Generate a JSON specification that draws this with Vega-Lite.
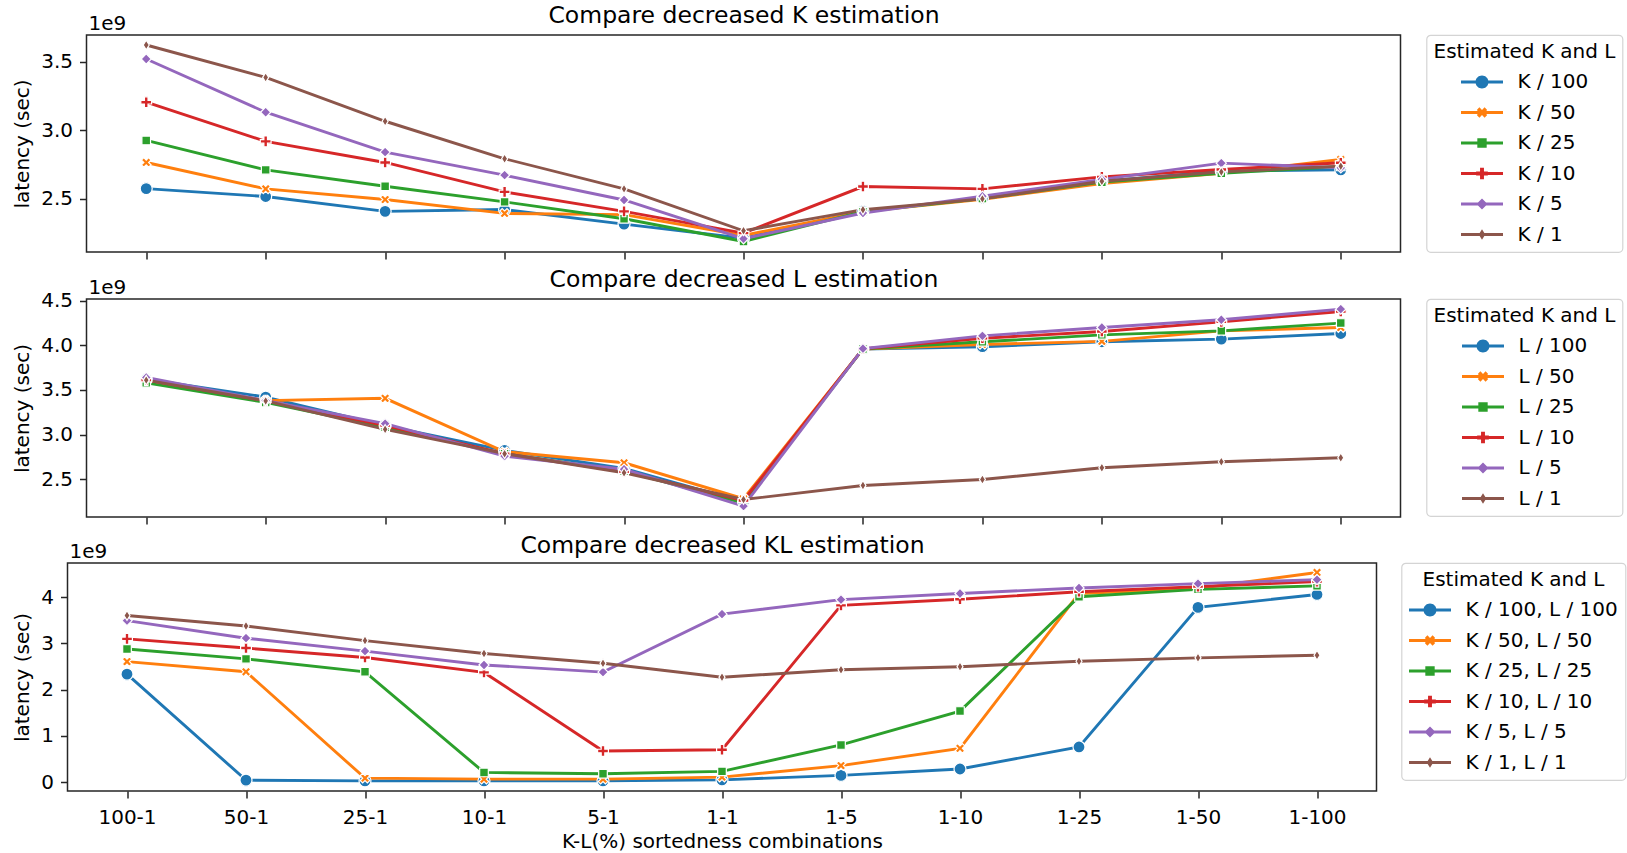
{
  "$schema": "https://vega.github.io/schema/vega-lite/v6.json",
  "background": "white",
  "padding": {"left": 10.5, "top": 2, "right": 5, "bottom": 5},
  "config": {
    "font": "DejaVu Sans",
    "view": {"stroke": "#262626", "strokeWidth": 1.5},
    "axis": {"domain": false, "grid": false, "tickSize": 7, "tickWidth": 1.5, "tickColor": "#262626", "labelFontSize": 20, "labelColor": "black", "labelFont": "DejaVu Sans", "titleFontSize": 20, "titleFontWeight": "normal", "titleColor": "black", "titleFont": "DejaVu Sans", "labelPadding": 7},
    "axisY": {"titlePadding": 8},
    "axisX": {"labelAngle": 0, "labelPadding": 9, "titlePadding": 4},
    "legend": {"labelFontSize": 20, "labelFont": "DejaVu Sans", "labelColor": "black", "labelLimit": 400, "titleFontSize": 20, "titleFont": "DejaVu Sans", "titleFontWeight": "normal", "titleColor": "black", "titleLimit": 400, "symbolSize": 169, "symbolStrokeWidth": 0, "rowPadding": 10.5, "padding": 7, "titlePadding": 10, "strokeColor": "#d4d4d4", "strokeWidth": 1.2, "cornerRadius": 4, "fillColor": "white", "titleAnchor": "middle"}
  },
  "datasets": {
    "K": [
      {"combo":"100-1","series":"K / 100","latency":2.573e9},{"combo":"50-1","series":"K / 100","latency":2.515e9},{"combo":"25-1","series":"K / 100","latency":2.407e9},{"combo":"10-1","series":"K / 100","latency":2.42e9},{"combo":"5-1","series":"K / 100","latency":2.314e9},{"combo":"1-1","series":"K / 100","latency":2.21e9},{"combo":"1-5","series":"K / 100","latency":2.41e9},{"combo":"1-10","series":"K / 100","latency":2.5e9},{"combo":"1-25","series":"K / 100","latency":2.627e9},{"combo":"1-50","series":"K / 100","latency":2.7e9},{"combo":"1-100","series":"K / 100","latency":2.71e9},
      {"combo":"100-1","series":"K / 50","latency":2.764e9},{"combo":"50-1","series":"K / 50","latency":2.571e9},{"combo":"25-1","series":"K / 50","latency":2.493e9},{"combo":"10-1","series":"K / 50","latency":2.392e9},{"combo":"5-1","series":"K / 50","latency":2.383e9},{"combo":"1-1","series":"K / 50","latency":2.231e9},{"combo":"1-5","series":"K / 50","latency":2.405e9},{"combo":"1-10","series":"K / 50","latency":2.495e9},{"combo":"1-25","series":"K / 50","latency":2.61e9},{"combo":"1-50","series":"K / 50","latency":2.685e9},{"combo":"1-100","series":"K / 50","latency":2.786e9},
      {"combo":"100-1","series":"K / 25","latency":2.925e9},{"combo":"50-1","series":"K / 25","latency":2.71e9},{"combo":"25-1","series":"K / 25","latency":2.59e9},{"combo":"10-1","series":"K / 25","latency":2.476e9},{"combo":"5-1","series":"K / 25","latency":2.353e9},{"combo":"1-1","series":"K / 25","latency":2.187e9},{"combo":"1-5","series":"K / 25","latency":2.405e9},{"combo":"1-10","series":"K / 25","latency":2.5e9},{"combo":"1-25","series":"K / 25","latency":2.62e9},{"combo":"1-50","series":"K / 25","latency":2.685e9},{"combo":"1-100","series":"K / 25","latency":2.735e9},
      {"combo":"100-1","series":"K / 10","latency":3.204e9},{"combo":"50-1","series":"K / 10","latency":2.918e9},{"combo":"25-1","series":"K / 10","latency":2.764e9},{"combo":"10-1","series":"K / 10","latency":2.549e9},{"combo":"5-1","series":"K / 10","latency":2.407e9},{"combo":"1-1","series":"K / 10","latency":2.248e9},{"combo":"1-5","series":"K / 10","latency":2.588e9},{"combo":"1-10","series":"K / 10","latency":2.571e9},{"combo":"1-25","series":"K / 10","latency":2.659e9},{"combo":"1-50","series":"K / 10","latency":2.713e9},{"combo":"1-100","series":"K / 10","latency":2.762e9},
      {"combo":"100-1","series":"K / 5","latency":3.52e9},{"combo":"50-1","series":"K / 5","latency":3.131e9},{"combo":"25-1","series":"K / 5","latency":2.84e9},{"combo":"10-1","series":"K / 5","latency":2.671e9},{"combo":"5-1","series":"K / 5","latency":2.49e9},{"combo":"1-1","series":"K / 5","latency":2.207e9},{"combo":"1-5","series":"K / 5","latency":2.395e9},{"combo":"1-10","series":"K / 5","latency":2.517e9},{"combo":"1-25","series":"K / 5","latency":2.64e9},{"combo":"1-50","series":"K / 5","latency":2.759e9},{"combo":"1-100","series":"K / 5","latency":2.725e9},
      {"combo":"100-1","series":"K / 1","latency":3.622e9},{"combo":"50-1","series":"K / 1","latency":3.385e9},{"combo":"25-1","series":"K / 1","latency":3.065e9},{"combo":"10-1","series":"K / 1","latency":2.791e9},{"combo":"5-1","series":"K / 1","latency":2.571e9},{"combo":"1-1","series":"K / 1","latency":2.265e9},{"combo":"1-5","series":"K / 1","latency":2.419e9},{"combo":"1-10","series":"K / 1","latency":2.498e9},{"combo":"1-25","series":"K / 1","latency":2.627e9},{"combo":"1-50","series":"K / 1","latency":2.695e9},{"combo":"1-100","series":"K / 1","latency":2.737e9}
    ],
    "L": [
      {"combo":"100-1","series":"L / 100","latency":3.62e9},{"combo":"50-1","series":"L / 100","latency":3.42e9},{"combo":"25-1","series":"L / 100","latency":3.1e9},{"combo":"10-1","series":"L / 100","latency":2.822e9},{"combo":"5-1","series":"L / 100","latency":2.62e9},{"combo":"1-1","series":"L / 100","latency":2.245e9},{"combo":"1-5","series":"L / 100","latency":3.96e9},{"combo":"1-10","series":"L / 100","latency":3.985e9},{"combo":"1-25","series":"L / 100","latency":4.04e9},{"combo":"1-50","series":"L / 100","latency":4.07e9},{"combo":"1-100","series":"L / 100","latency":4.133e9},
      {"combo":"100-1","series":"L / 50","latency":3.61e9},{"combo":"50-1","series":"L / 50","latency":3.38e9},{"combo":"25-1","series":"L / 50","latency":3.406e9},{"combo":"10-1","series":"L / 50","latency":2.807e9},{"combo":"5-1","series":"L / 50","latency":2.683e9},{"combo":"1-1","series":"L / 50","latency":2.28e9},{"combo":"1-5","series":"L / 50","latency":3.96e9},{"combo":"1-10","series":"L / 50","latency":4.01e9},{"combo":"1-25","series":"L / 50","latency":4.045e9},{"combo":"1-50","series":"L / 50","latency":4.163e9},{"combo":"1-100","series":"L / 50","latency":4.2e9},
      {"combo":"100-1","series":"L / 25","latency":3.58e9},{"combo":"50-1","series":"L / 25","latency":3.36e9},{"combo":"25-1","series":"L / 25","latency":3.08e9},{"combo":"10-1","series":"L / 25","latency":2.785e9},{"combo":"5-1","series":"L / 25","latency":2.59e9},{"combo":"1-1","series":"L / 25","latency":2.23e9},{"combo":"1-5","series":"L / 25","latency":3.96e9},{"combo":"1-10","series":"L / 25","latency":4.04e9},{"combo":"1-25","series":"L / 25","latency":4.118e9},{"combo":"1-50","series":"L / 25","latency":4.163e9},{"combo":"1-100","series":"L / 25","latency":4.25e9},
      {"combo":"100-1","series":"L / 10","latency":3.61e9},{"combo":"50-1","series":"L / 10","latency":3.38e9},{"combo":"25-1","series":"L / 10","latency":3.1e9},{"combo":"10-1","series":"L / 10","latency":2.785e9},{"combo":"5-1","series":"L / 10","latency":2.583e9},{"combo":"1-1","series":"L / 10","latency":2.26e9},{"combo":"1-5","series":"L / 10","latency":3.96e9},{"combo":"1-10","series":"L / 10","latency":4.08e9},{"combo":"1-25","series":"L / 10","latency":4.155e9},{"combo":"1-50","series":"L / 10","latency":4.264e9},{"combo":"1-100","series":"L / 10","latency":4.38e9},
      {"combo":"100-1","series":"L / 5","latency":3.64e9},{"combo":"50-1","series":"L / 5","latency":3.38e9},{"combo":"25-1","series":"L / 5","latency":3.122e9},{"combo":"10-1","series":"L / 5","latency":2.758e9},{"combo":"5-1","series":"L / 5","latency":2.61e9},{"combo":"1-1","series":"L / 5","latency":2.197e9},{"combo":"1-5","series":"L / 5","latency":3.964e9},{"combo":"1-10","series":"L / 5","latency":4.107e9},{"combo":"1-25","series":"L / 5","latency":4.2e9},{"combo":"1-50","series":"L / 5","latency":4.287e9},{"combo":"1-100","series":"L / 5","latency":4.406e9},
      {"combo":"100-1","series":"L / 1","latency":3.61e9},{"combo":"50-1","series":"L / 1","latency":3.377e9},{"combo":"25-1","series":"L / 1","latency":3.058e9},{"combo":"10-1","series":"L / 1","latency":2.785e9},{"combo":"5-1","series":"L / 1","latency":2.571e9},{"combo":"1-1","series":"L / 1","latency":2.271e9},{"combo":"1-5","series":"L / 1","latency":2.429e9},{"combo":"1-10","series":"L / 1","latency":2.496e9},{"combo":"1-25","series":"L / 1","latency":2.627e9},{"combo":"1-50","series":"L / 1","latency":2.695e9},{"combo":"1-100","series":"L / 1","latency":2.74e9}
    ],
    "KL": [
      {"combo":"100-1","series":"K / 100, L / 100","latency":2.337e9},{"combo":"50-1","series":"K / 100, L / 100","latency":0.044e9},{"combo":"25-1","series":"K / 100, L / 100","latency":0.03e9},{"combo":"10-1","series":"K / 100, L / 100","latency":0.03e9},{"combo":"5-1","series":"K / 100, L / 100","latency":0.03e9},{"combo":"1-1","series":"K / 100, L / 100","latency":0.05e9},{"combo":"1-5","series":"K / 100, L / 100","latency":0.147e9},{"combo":"1-10","series":"K / 100, L / 100","latency":0.286e9},{"combo":"1-25","series":"K / 100, L / 100","latency":0.762e9},{"combo":"1-50","series":"K / 100, L / 100","latency":3.78e9},{"combo":"1-100","series":"K / 100, L / 100","latency":4.06e9},
      {"combo":"100-1","series":"K / 50, L / 50","latency":2.608e9},{"combo":"50-1","series":"K / 50, L / 50","latency":2.388e9},{"combo":"25-1","series":"K / 50, L / 50","latency":0.088e9},{"combo":"10-1","series":"K / 50, L / 50","latency":0.066e9},{"combo":"5-1","series":"K / 50, L / 50","latency":0.066e9},{"combo":"1-1","series":"K / 50, L / 50","latency":0.11e9},{"combo":"1-5","series":"K / 50, L / 50","latency":0.359e9},{"combo":"1-10","series":"K / 50, L / 50","latency":0.733e9},{"combo":"1-25","series":"K / 50, L / 50","latency":4.08e9},{"combo":"1-50","series":"K / 50, L / 50","latency":4.19e9},{"combo":"1-100","series":"K / 50, L / 50","latency":4.535e9},
      {"combo":"100-1","series":"K / 25, L / 25","latency":2.879e9},{"combo":"50-1","series":"K / 25, L / 25","latency":2.667e9},{"combo":"25-1","series":"K / 25, L / 25","latency":2.388e9},{"combo":"10-1","series":"K / 25, L / 25","latency":0.212e9},{"combo":"5-1","series":"K / 25, L / 25","latency":0.183e9},{"combo":"1-1","series":"K / 25, L / 25","latency":0.234e9},{"combo":"1-5","series":"K / 25, L / 25","latency":0.806e9},{"combo":"1-10","series":"K / 25, L / 25","latency":1.538e9},{"combo":"1-25","series":"K / 25, L / 25","latency":4.01e9},{"combo":"1-50","series":"K / 25, L / 25","latency":4.17e9},{"combo":"1-100","series":"K / 25, L / 25","latency":4.245e9},
      {"combo":"100-1","series":"K / 10, L / 10","latency":3.099e9},{"combo":"50-1","series":"K / 10, L / 10","latency":2.901e9},{"combo":"25-1","series":"K / 10, L / 10","latency":2.696e9},{"combo":"10-1","series":"K / 10, L / 10","latency":2.374e9},{"combo":"5-1","series":"K / 10, L / 10","latency":0.674e9},{"combo":"1-1","series":"K / 10, L / 10","latency":0.703e9},{"combo":"1-5","series":"K / 10, L / 10","latency":3.824e9},{"combo":"1-10","series":"K / 10, L / 10","latency":3.956e9},{"combo":"1-25","series":"K / 10, L / 10","latency":4.117e9},{"combo":"1-50","series":"K / 10, L / 10","latency":4.23e9},{"combo":"1-100","series":"K / 10, L / 10","latency":4.337e9},
      {"combo":"100-1","series":"K / 5, L / 5","latency":3.495e9},{"combo":"50-1","series":"K / 5, L / 5","latency":3.114e9},{"combo":"25-1","series":"K / 5, L / 5","latency":2.835e9},{"combo":"10-1","series":"K / 5, L / 5","latency":2.535e9},{"combo":"5-1","series":"K / 5, L / 5","latency":2.381e9},{"combo":"1-1","series":"K / 5, L / 5","latency":3.634e9},{"combo":"1-5","series":"K / 5, L / 5","latency":3.949e9},{"combo":"1-10","series":"K / 5, L / 5","latency":4.081e9},{"combo":"1-25","series":"K / 5, L / 5","latency":4.2e9},{"combo":"1-50","series":"K / 5, L / 5","latency":4.295e9},{"combo":"1-100","series":"K / 5, L / 5","latency":4.38e9},
      {"combo":"100-1","series":"K / 1, L / 1","latency":3.604e9},{"combo":"50-1","series":"K / 1, L / 1","latency":3.377e9},{"combo":"25-1","series":"K / 1, L / 1","latency":3.062e9},{"combo":"10-1","series":"K / 1, L / 1","latency":2.784e9},{"combo":"5-1","series":"K / 1, L / 1","latency":2.571e9},{"combo":"1-1","series":"K / 1, L / 1","latency":2.271e9},{"combo":"1-5","series":"K / 1, L / 1","latency":2.432e9},{"combo":"1-10","series":"K / 1, L / 1","latency":2.498e9},{"combo":"1-25","series":"K / 1, L / 1","latency":2.615e9},{"combo":"1-50","series":"K / 1, L / 1","latency":2.689e9},{"combo":"1-100","series":"K / 1, L / 1","latency":2.745e9}
    ]
  },
  "spacing": 5,
  "resolve": {"scale": {"color": "independent", "shape": "independent", "stroke": "independent"}},
  "vconcat": [
    {
      "spacing": 0,
      "resolve": {"scale": {"color": "independent", "shape": "independent", "stroke": "independent"}},
      "hconcat": [
        {"width": 1, "height": 1, "data": {"values": []}, "mark": "point", "view": {"stroke": null}},
        {
          "width": 1314, "height": 217,
          "data": {"name": "K"},
          "resolve": {"axis": {"x": "independent", "y": "independent"}},
          "layer": [
            {
              "mark": {"type": "line", "strokeWidth": 2.9},
              "encoding": {
                "x": {"field": "combo", "type": "ordinal", "scale": {"type": "point", "padding": 0.5, "domain": ["100-1","50-1","25-1","10-1","5-1","1-1","1-5","1-10","1-25","1-50","1-100"]}, "axis": {"orient": "bottom", "labels": false, "title": null}},
                "y": {"field": "latency", "type": "quantitative", "scale": {"domain": [2.11e9, 3.695e9], "nice": false, "zero": false}, "axis": {"orient": "left", "values": [2.5e9, 3e9, 3.5e9], "labelExpr": "format(datum.value/1e9, '.1f')", "title": "latency (sec)"}},
                "stroke": {"field": "series", "type": "nominal", "scale": {"domain": ["K / 1","K / 5","K / 10","K / 25","K / 50","K / 100"], "range": ["#8c564b","#9467bd","#d62728","#2ca02c","#ff7f0e","#1f77b4"]}, "legend": null}
              }
            },
            {
              "mark": {"type": "point", "filled": true, "opacity": 1, "size": 144, "stroke": "white", "strokeWidth": 1.2},
              "encoding": {
                "x": {"field": "combo", "type": "ordinal", "axis": {"orient": "top", "labels": false, "ticks": false, "domain": false, "title": "Compare decreased K estimation", "titleFontSize": 23.5, "titleY": -13, "titleBaseline": "alphabetic"}},
                "y": {"field": "latency", "type": "quantitative", "axis": {"orient": "left", "labels": false, "ticks": false, "domain": false, "title": "1e9", "titleAngle": 0, "titleX": 1.5, "titleY": -6, "titleAlign": "left", "titleBaseline": "alphabetic"}},
                "color": {"field": "series", "type": "nominal", "scale": {"domain": ["K / 100","K / 50","K / 25","K / 10","K / 5","K / 1"], "range": ["#1f77b4","#ff7f0e","#2ca02c","#d62728","#9467bd","#8c564b"]},
                  "legend": {"title": "Estimated K and L", "orient": "right", "offset": 25.5, "symbolOffset": 11.5, "labelOffset": 25.5,
                    "symbolType": {"expr": "['M-3.23,-0.23H3.23V0.23H-3.23ZM-1,0A1,1 0 1,1 1,0A1,1 0 1,1 -1,0Z','M-3.23,-0.23H3.23V0.23H-3.23ZM-0.8,-0.4L-0.4,-0.8L0,-0.4L0.4,-0.8L0.8,-0.4L0.4,0L0.8,0.4L0.4,0.8L0,0.4L-0.4,0.8L-0.8,0.4L-0.4,0Z','M-3.23,-0.23H3.23V0.23H-3.23ZM-0.72,-0.72H0.72V0.72H-0.72Z','M-3.23,-0.23H3.23V0.23H-3.23ZM-0.9,-0.3H-0.3V-0.9H0.3V-0.3H0.9V0.3H0.3V0.9H-0.3V0.3H-0.9Z','M-3.23,-0.23H3.23V0.23H-3.23ZM-0.85,0L0,-0.85L0.85,0L0,0.85Z','M-3.23,-0.23H3.23V0.23H-3.23ZM-0.5,0L0,-0.8L0.5,0L0,0.8Z'][indexof(['K / 100','K / 50','K / 25','K / 10','K / 5','K / 1'], datum.value)]"},
                    "encode": {"symbols": {"strokeWidth": {"value": 0}, "size": {"value": 169}}}}},
                "shape": {"field": "series", "type": "nominal", "scale": {"domain": ["K / 1","K / 5","K / 10","K / 25","K / 50","K / 100"], "range": ["M-0.5,0L0,-0.8L0.5,0L0,0.8Z","M-0.85,0L0,-0.85L0.85,0L0,0.85Z","M-0.9,-0.3H-0.3V-0.9H0.3V-0.3H0.9V0.3H0.3V0.9H-0.3V0.3H-0.9Z","M-0.72,-0.72H0.72V0.72H-0.72Z","M-0.8,-0.4L-0.4,-0.8L0,-0.4L0.4,-0.8L0.8,-0.4L0.4,0L0.8,0.4L0.4,0.8L0,0.4L-0.4,0.8L-0.8,0.4L-0.4,0Z","M-1,0A1,1 0 1,1 1,0A1,1 0 1,1 -1,0Z"]}, "legend": null}
              }
            }
          ]
        }
      ]
    },
    {
      "spacing": 0,
      "resolve": {"scale": {"color": "independent", "shape": "independent", "stroke": "independent"}},
      "hconcat": [
        {"width": 1, "height": 1, "data": {"values": []}, "mark": "point", "view": {"stroke": null}},
        {
          "width": 1314, "height": 218,
          "data": {"name": "L"},
          "resolve": {"axis": {"x": "independent", "y": "independent"}},
          "layer": [
            {
              "mark": {"type": "line", "strokeWidth": 2.9},
              "encoding": {
                "x": {"field": "combo", "type": "ordinal", "scale": {"type": "point", "padding": 0.5, "domain": ["100-1","50-1","25-1","10-1","5-1","1-1","1-5","1-10","1-25","1-50","1-100"]}, "axis": {"orient": "bottom", "labels": false, "title": null, "minExtent": 9}},
                "y": {"field": "latency", "type": "quantitative", "scale": {"domain": [2.075e9, 4.52e9], "nice": false, "zero": false}, "axis": {"orient": "left", "values": [2.5e9, 3e9, 3.5e9, 4e9, 4.5e9], "labelExpr": "format(datum.value/1e9, '.1f')", "title": "latency (sec)"}},
                "stroke": {"field": "series", "type": "nominal", "scale": {"domain": ["L / 1","L / 5","L / 10","L / 25","L / 50","L / 100"], "range": ["#8c564b","#9467bd","#d62728","#2ca02c","#ff7f0e","#1f77b4"]}, "legend": null}
              }
            },
            {
              "mark": {"type": "point", "filled": true, "opacity": 1, "size": 144, "stroke": "white", "strokeWidth": 1.2},
              "encoding": {
                "x": {"field": "combo", "type": "ordinal", "axis": {"orient": "top", "labels": false, "ticks": false, "domain": false, "title": "Compare decreased L estimation", "titleFontSize": 23.5, "titleY": -13, "titleBaseline": "alphabetic"}},
                "y": {"field": "latency", "type": "quantitative", "axis": {"orient": "left", "labels": false, "ticks": false, "domain": false, "title": "1e9", "titleAngle": 0, "titleX": 1.5, "titleY": -6, "titleAlign": "left", "titleBaseline": "alphabetic"}},
                "color": {"field": "series", "type": "nominal", "scale": {"domain": ["L / 100","L / 50","L / 25","L / 10","L / 5","L / 1"], "range": ["#1f77b4","#ff7f0e","#2ca02c","#d62728","#9467bd","#8c564b"]},
                  "legend": {"title": "Estimated K and L", "orient": "right", "offset": 25.5, "symbolOffset": 11.5, "labelOffset": 25.5,
                    "symbolType": {"expr": "['M-3.23,-0.23H3.23V0.23H-3.23ZM-1,0A1,1 0 1,1 1,0A1,1 0 1,1 -1,0Z','M-3.23,-0.23H3.23V0.23H-3.23ZM-0.8,-0.4L-0.4,-0.8L0,-0.4L0.4,-0.8L0.8,-0.4L0.4,0L0.8,0.4L0.4,0.8L0,0.4L-0.4,0.8L-0.8,0.4L-0.4,0Z','M-3.23,-0.23H3.23V0.23H-3.23ZM-0.72,-0.72H0.72V0.72H-0.72Z','M-3.23,-0.23H3.23V0.23H-3.23ZM-0.9,-0.3H-0.3V-0.9H0.3V-0.3H0.9V0.3H0.3V0.9H-0.3V0.3H-0.9Z','M-3.23,-0.23H3.23V0.23H-3.23ZM-0.85,0L0,-0.85L0.85,0L0,0.85Z','M-3.23,-0.23H3.23V0.23H-3.23ZM-0.5,0L0,-0.8L0.5,0L0,0.8Z'][indexof(['L / 100','L / 50','L / 25','L / 10','L / 5','L / 1'], datum.value)]"},
                    "encode": {"symbols": {"strokeWidth": {"value": 0}, "size": {"value": 169}}}}},
                "shape": {"field": "series", "type": "nominal", "scale": {"domain": ["L / 1","L / 5","L / 10","L / 25","L / 50","L / 100"], "range": ["M-0.5,0L0,-0.8L0.5,0L0,0.8Z","M-0.85,0L0,-0.85L0.85,0L0,0.85Z","M-0.9,-0.3H-0.3V-0.9H0.3V-0.3H0.9V0.3H0.3V0.9H-0.3V0.3H-0.9Z","M-0.72,-0.72H0.72V0.72H-0.72Z","M-0.8,-0.4L-0.4,-0.8L0,-0.4L0.4,-0.8L0.8,-0.4L0.4,0L0.8,0.4L0.4,0.8L0,0.4L-0.4,0.8L-0.8,0.4L-0.4,0Z","M-1,0A1,1 0 1,1 1,0A1,1 0 1,1 -1,0Z"]}, "legend": null}
              }
            }
          ]
        }
      ]
    },
    {
      "spacing": 0,
      "resolve": {"scale": {"color": "independent", "shape": "independent", "stroke": "independent"}},
      "hconcat": [
        {"width": 1, "height": 1, "data": {"values": []}, "mark": "point", "view": {"stroke": null}},
        {
          "width": 1309, "height": 228,
          "data": {"name": "KL"},
          "resolve": {"axis": {"x": "independent", "y": "independent"}},
          "layer": [
            {
              "mark": {"type": "line", "strokeWidth": 2.9},
              "encoding": {
                "x": {"field": "combo", "type": "ordinal", "scale": {"type": "point", "padding": 0.5, "domain": ["100-1","50-1","25-1","10-1","5-1","1-1","1-5","1-10","1-25","1-50","1-100"]}, "axis": {"orient": "bottom", "title": "K-L(%) sortedness combinations"}},
                "y": {"field": "latency", "type": "quantitative", "scale": {"domain": [-0.19e9, 4.74e9], "nice": false, "zero": false}, "axis": {"orient": "left", "values": [0, 1e9, 2e9, 3e9, 4e9], "labelExpr": "format(datum.value/1e9, 'd')", "title": "latency (sec)"}},
                "stroke": {"field": "series", "type": "nominal", "scale": {"domain": ["K / 1, L / 1","K / 5, L / 5","K / 10, L / 10","K / 25, L / 25","K / 50, L / 50","K / 100, L / 100"], "range": ["#8c564b","#9467bd","#d62728","#2ca02c","#ff7f0e","#1f77b4"]}, "legend": null}
              }
            },
            {
              "mark": {"type": "point", "filled": true, "opacity": 1, "size": 144, "stroke": "white", "strokeWidth": 1.2},
              "encoding": {
                "x": {"field": "combo", "type": "ordinal", "axis": {"orient": "top", "labels": false, "ticks": false, "domain": false, "title": "Compare decreased KL estimation", "titleFontSize": 23.5, "titleY": -11, "titleBaseline": "alphabetic"}},
                "y": {"field": "latency", "type": "quantitative", "axis": {"orient": "left", "labels": false, "ticks": false, "domain": false, "title": "1e9", "titleAngle": 0, "titleX": 1.5, "titleY": -6, "titleAlign": "left", "titleBaseline": "alphabetic"}},
                "color": {"field": "series", "type": "nominal", "scale": {"domain": ["K / 100, L / 100","K / 50, L / 50","K / 25, L / 25","K / 10, L / 10","K / 5, L / 5","K / 1, L / 1"], "range": ["#1f77b4","#ff7f0e","#2ca02c","#d62728","#9467bd","#8c564b"]},
                  "legend": {"title": "Estimated K and L", "orient": "right", "offset": 24.5, "symbolOffset": 11.5, "labelOffset": 25.5,
                    "symbolType": {"expr": "['M-3.23,-0.23H3.23V0.23H-3.23ZM-1,0A1,1 0 1,1 1,0A1,1 0 1,1 -1,0Z','M-3.23,-0.23H3.23V0.23H-3.23ZM-0.8,-0.4L-0.4,-0.8L0,-0.4L0.4,-0.8L0.8,-0.4L0.4,0L0.8,0.4L0.4,0.8L0,0.4L-0.4,0.8L-0.8,0.4L-0.4,0Z','M-3.23,-0.23H3.23V0.23H-3.23ZM-0.72,-0.72H0.72V0.72H-0.72Z','M-3.23,-0.23H3.23V0.23H-3.23ZM-0.9,-0.3H-0.3V-0.9H0.3V-0.3H0.9V0.3H0.3V0.9H-0.3V0.3H-0.9Z','M-3.23,-0.23H3.23V0.23H-3.23ZM-0.85,0L0,-0.85L0.85,0L0,0.85Z','M-3.23,-0.23H3.23V0.23H-3.23ZM-0.5,0L0,-0.8L0.5,0L0,0.8Z'][indexof(['K / 100, L / 100','K / 50, L / 50','K / 25, L / 25','K / 10, L / 10','K / 5, L / 5','K / 1, L / 1'], datum.value)]"},
                    "encode": {"symbols": {"strokeWidth": {"value": 0}, "size": {"value": 169}}}}},
                "shape": {"field": "series", "type": "nominal", "scale": {"domain": ["K / 1, L / 1","K / 5, L / 5","K / 10, L / 10","K / 25, L / 25","K / 50, L / 50","K / 100, L / 100"], "range": ["M-0.5,0L0,-0.8L0.5,0L0,0.8Z","M-0.85,0L0,-0.85L0.85,0L0,0.85Z","M-0.9,-0.3H-0.3V-0.9H0.3V-0.3H0.9V0.3H0.3V0.9H-0.3V0.3H-0.9Z","M-0.72,-0.72H0.72V0.72H-0.72Z","M-0.8,-0.4L-0.4,-0.8L0,-0.4L0.4,-0.8L0.8,-0.4L0.4,0L0.8,0.4L0.4,0.8L0,0.4L-0.4,0.8L-0.8,0.4L-0.4,0Z","M-1,0A1,1 0 1,1 1,0A1,1 0 1,1 -1,0Z"]}, "legend": null}
              }
            }
          ]
        }
      ]
    }
  ]
}
